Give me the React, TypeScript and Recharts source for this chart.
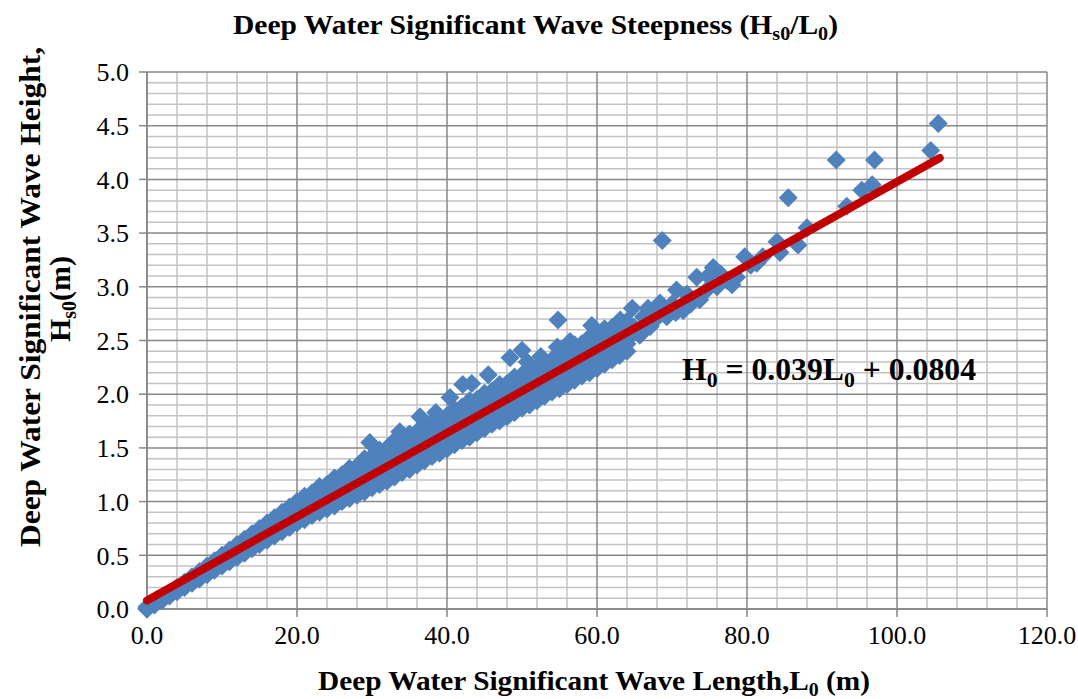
import React from 'react';
import { ScatterChart, Scatter, XAxis, YAxis, CartesianGrid } from 'recharts';

// ---- data ----
const bandL = [0,1,2,3,4,5,6,7,8,9,10,11,12,13,14,15,16,17,18,19,20,21,22,23,24,25,26,27,28,29,30,31,32,33,34,35,36,37,38,39,40,41,42,43,44,45,46,47,48,49,50,51,52,53,54,55,56,57,58,59,60,61,62,63,64];
const bandLow = [0.00,0.04,0.08,0.12,0.16,0.20,0.24,0.28,0.32,0.36,0.40,0.44,0.48,0.52,0.56,0.60,0.64,0.68,0.72,0.76,0.80,0.83,0.87,0.90,0.93,0.96,1.00,1.03,1.06,1.09,1.13,1.16,1.19,1.23,1.27,1.30,1.34,1.38,1.42,1.45,1.49,1.53,1.57,1.60,1.64,1.68,1.72,1.75,1.79,1.83,1.87,1.90,1.94,1.98,2.02,2.05,2.09,2.13,2.17,2.20,2.24,2.28,2.32,2.36,2.40];
const bandLowMid = [0.00,0.04,0.09,0.13,0.17,0.21,0.26,0.30,0.34,0.38,0.43,0.47,0.51,0.55,0.60,0.64,0.68,0.72,0.77,0.81,0.85,0.89,0.92,0.95,0.99,1.03,1.06,1.10,1.13,1.17,1.20,1.24,1.27,1.31,1.35,1.38,1.42,1.46,1.50,1.53,1.57,1.61,1.65,1.68,1.72,1.76,1.80,1.83,1.87,1.91,1.95,1.98,2.02,2.06,2.10,2.13,2.17,2.21,2.25,2.28,2.32,2.36,2.40,2.44,2.47];
const bandMid = [0.01,0.05,0.09,0.14,0.18,0.23,0.27,0.32,0.36,0.41,0.45,0.50,0.54,0.59,0.63,0.68,0.72,0.77,0.81,0.86,0.90,0.94,0.98,1.01,1.05,1.09,1.13,1.16,1.20,1.24,1.28,1.31,1.35,1.39,1.43,1.46,1.50,1.54,1.58,1.61,1.65,1.69,1.73,1.76,1.80,1.84,1.88,1.91,1.95,1.99,2.03,2.06,2.10,2.14,2.18,2.21,2.25,2.29,2.33,2.36,2.40,2.44,2.48,2.51,2.55];
const bandUpMid = [0.01,0.05,0.10,0.14,0.19,0.24,0.29,0.33,0.38,0.43,0.48,0.52,0.57,0.62,0.67,0.71,0.76,0.81,0.86,0.90,0.95,0.99,1.03,1.07,1.11,1.15,1.19,1.23,1.27,1.31,1.35,1.39,1.43,1.47,1.51,1.54,1.58,1.62,1.66,1.69,1.73,1.77,1.81,1.84,1.88,1.92,1.96,1.99,2.03,2.07,2.11,2.14,2.18,2.22,2.26,2.29,2.33,2.37,2.41,2.44,2.48,2.52,2.56,2.59,2.62];
const bandHigh = [0.02,0.06,0.11,0.15,0.20,0.25,0.30,0.35,0.40,0.45,0.50,0.55,0.60,0.65,0.70,0.75,0.80,0.85,0.90,0.95,1.00,1.05,1.08,1.14,1.16,1.22,1.25,1.31,1.33,1.40,1.42,1.48,1.50,1.57,1.58,1.63,1.65,1.72,1.73,1.79,1.80,1.86,1.88,1.94,1.95,2.01,2.03,2.09,2.10,2.16,2.18,2.23,2.25,2.31,2.32,2.38,2.40,2.46,2.47,2.53,2.55,2.61,2.62,2.67,2.68];

const outlierL = [29.7,33.7,36.4,38.5,40.4,42.1,43.3,45.5,48.4,50.0,50.7,52.5,54.7,54.8,56.4,59.3,60.4,62.0,63.1,64.7,64.8,65.0,65.7,66.0,66.2,66.8,67.1,67.7,68.0,68.4,68.7,69.0,69.3,70.0,70.5,70.6,71.5,72.0,72.5,73.3,73.7,74.5,74.8,75.5,76.0,76.5,77.3,78.0,78.6,79.7,80.5,81.3,82.1,84.0,84.4,85.5,86.8,88.0,91.9,93.3,95.3,96.7,97.0,104.5,105.5];
const outlierH = [1.55,1.65,1.79,1.83,1.97,2.09,2.10,2.18,2.34,2.41,2.30,2.35,2.44,2.69,2.49,2.64,2.50,2.60,2.69,2.80,2.57,2.62,2.55,2.58,2.72,2.80,2.63,2.69,2.75,2.85,3.43,2.78,2.72,2.84,2.76,2.97,2.78,2.93,2.84,3.09,2.88,2.96,3.10,3.18,3.00,3.12,3.06,3.02,3.09,3.28,3.20,3.22,3.28,3.42,3.32,3.83,3.39,3.55,4.18,3.75,3.90,3.95,4.18,4.27,4.52];

const trendL = [0, 105.7];
const trendH = [0.08, 4.20];

const xTicks = [0, 20, 40, 60, 80, 100, 120];
const yTicks = [0, 0.5, 1, 1.5, 2, 2.5, 3, 3.5, 4, 4.5, 5];
const xMinorTicks = [4,8,12,16,24,28,32,36,44,48,52,56,64,68,72,76,84,88,92,96,104,108,112,116];
const yMinorTicks = [0.1,0.2,0.3,0.4,0.6,0.7,0.8,0.9,1.1,1.2,1.3,1.4,1.6,1.7,1.8,1.9,2.1,2.2,2.3,2.4,2.6,2.7,2.8,2.9,3.1,3.2,3.3,3.4,3.6,3.7,3.8,3.9,4.1,4.2,4.3,4.4,4.6,4.7,4.8,4.9];

const bandPoints = bandL.flatMap((L, i) => [
  { L, H: bandLow[i] },
  { L, H: bandLowMid[i] },
  { L, H: bandMid[i] },
  { L, H: bandUpMid[i] },
  { L, H: bandHigh[i] },
]);
const outlierPoints = outlierL.map((L, i) => ({ L, H: outlierH[i] }));
const trendPoints = trendL.map((L, i) => ({ L, H: trendH[i] }));

const BLUE = '#4F81BD';
const FONT = '"Liberation Serif", "Times New Roman", serif';

const Diamond = (props: any) => {
  const { cx, cy } = props;
  if (cx == null || cy == null) return null;
  const r = 9.5;
  return <path d={`M${cx},${cy - r}L${cx + r},${cy}L${cx},${cy + r}L${cx - r},${cy}Z`} fill={BLUE} />;
};
const NoShape = () => null;

const applyScale = (axis: any, v: number) => {
  const s = axis && axis.scale;
  if (!s) return 0;
  if (typeof s === 'function') return s(v);
  if (typeof s.map === 'function') return s.map(v);
  return 0;
};

const tickStyle = { fontFamily: FONT, fontSize: 26, fill: '#000' };

export default function App() {
  return (
    <div style={{ position: 'absolute', left: 0, top: 0, width: 1078, height: 699, background: '#fff', overflow: 'hidden' }}>
      <ScatterChart width={1078} height={699} margin={{ top: 72, right: 31, bottom: 50, left: 67 }}>
        <XAxis
          type="number"
          dataKey="L"
          domain={[0, 120]}
          ticks={xTicks}
          height={40}
          tickFormatter={(v: number) => v.toFixed(1)}
          tick={tickStyle}
          tickSize={8}
          tickMargin={9}
          stroke="#868686"
          strokeWidth={1.5}
          interval={0}
        />
        <YAxis
          type="number"
          dataKey="H"
          domain={[0, 5]}
          ticks={yTicks}
          width={80}
          tickFormatter={(v: number) => v.toFixed(1)}
          tick={tickStyle}
          tickSize={8}
          tickMargin={10}
          stroke="#868686"
          strokeWidth={1.5}
          interval={0}
        />
        <CartesianGrid
          stroke="#c3c3c3"
          strokeWidth={1.5}
          verticalCoordinatesGenerator={(p: any) => xMinorTicks.map((v) => applyScale(p.xAxis, v))}
          horizontalCoordinatesGenerator={(p: any) => yMinorTicks.map((v) => applyScale(p.yAxis, v))}
        />
        <CartesianGrid stroke="#878787" strokeWidth={1.5} />
        <Scatter data={bandPoints} shape={Diamond} isAnimationActive={false} />
        <Scatter data={outlierPoints} shape={Diamond} isAnimationActive={false} />
        <Scatter
          data={trendPoints}
          shape={NoShape}
          line={{ stroke: '#C00000', strokeWidth: 8, strokeLinecap: 'round' }}
          isAnimationActive={false}
        />
      </ScatterChart>
      <svg width={1078} height={699} style={{ position: 'absolute', left: 0, top: 0, pointerEvents: 'none' }}>
        <text x={233} y={34} fontFamily={FONT} fontWeight="bold" fontSize={28} textLength={605} lengthAdjust="spacingAndGlyphs">
          Deep Water Significant Wave Steepness (H<tspan dy={6} fontSize={19}>s0</tspan><tspan dy={-6}>/L</tspan><tspan dy={6} fontSize={19}>0</tspan><tspan dy={-6}>)</tspan>
        </text>
        <text x={318} y={690} fontFamily={FONT} fontWeight="bold" fontSize={28} textLength={552} lengthAdjust="spacingAndGlyphs">
          Deep Water Significant Wave Length,L<tspan dy={6} fontSize={19}>0</tspan><tspan dy={-6}> (m)</tspan>
        </text>
        <text x={40} y={297} transform="rotate(-90 40 297)" textAnchor="middle" fontFamily={FONT} fontWeight="bold" fontSize={30} textLength={500} lengthAdjust="spacingAndGlyphs">
          Deep Water Significant Wave Height,
        </text>
        <text x={70} y={299} transform="rotate(-90 70 299)" textAnchor="middle" fontFamily={FONT} fontWeight="bold" fontSize={30}>
          H<tspan dy={6} fontSize={20}>s0</tspan><tspan dy={-6}>(m)</tspan>
        </text>
        <text x={682} y={380} fontFamily={FONT} fontWeight="bold" fontSize={32} textLength={294} lengthAdjust="spacingAndGlyphs">
          H<tspan dy={7} fontSize={22}>0</tspan><tspan dy={-7}> = 0.039L</tspan><tspan dy={7} fontSize={22}>0</tspan><tspan dy={-7}> + 0.0804</tspan>
        </text>
      </svg>
    </div>
  );
}
